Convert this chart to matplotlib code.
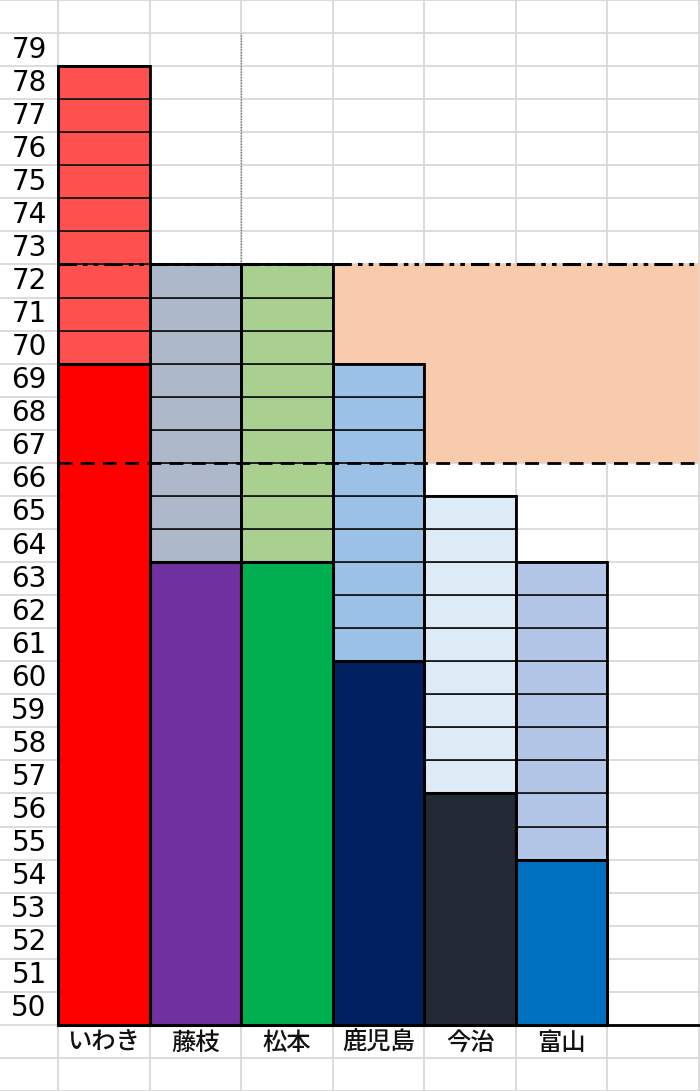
import matplotlib
matplotlib.use("Agg")
import matplotlib.pyplot as plt
import numpy as np

plt.rcParams['font.family'] = ['Noto Sans CJK JP', 'DejaVu Sans']

teams = ['いわき', '藤枝', '松本', '鹿児島', '今治', '富山']
base_pts = [69, 63, 63, 60, 56, 54]
max_pts = [78, 72, 72, 69, 65, 63]
base_colors = ['#FF0000', '#7030A0', '#00B050', '#002060', '#222A35', '#0070C0']
light_colors = ['#FF5050', '#ADB9CA', '#A9D08E', '#9BC2E6', '#DDEBF7', '#B4C6E7']
row_labels = list(range(79, 49, -1))
band_low, band_high = 66, 72
band_start_col = 3
n_cols = 7
y_floor = 49

fig = plt.figure(figsize=(7.0, 10.91), dpi=100)
ax = fig.add_axes([0, 0, 1, 1])
col_w = 641 / 7
ax.set_xlim(-58 / col_w, n_cols + 1 / col_w)
ax.set_ylim(47, 80)
for s in ax.spines.values():
    s.set_visible(False)
ax.set_xticks(np.arange(0, n_cols + 1))
ax.set_yticks(np.arange(47, 81))
ax.tick_params(length=0, labelbottom=False, labelleft=False)
ax.grid(True, color='#D9D9D9', lw=1.3, zorder=0)
ax.set_axisbelow(True)

# peach band
ax.bar(band_start_col, band_high - band_low, bottom=band_low, width=n_cols - band_start_col,
       align='edge', color='#F8CBAD', lw=0, zorder=1)

for i, (b, m) in enumerate(zip(base_pts, max_pts)):
    # light cells
    for v in range(b + 1, m + 1):
        ax.bar(i, 1, bottom=v - 1, width=1, align='edge', color=light_colors[i],
               edgecolor='#1a1a1a', lw=1.3, zorder=3)
    # outline of stack
    ax.bar(i, m - b, bottom=b, width=1, align='edge', fill=False,
           edgecolor='black', lw=2.0, zorder=4)
    # solid base
    ax.bar(i, b - y_floor, bottom=y_floor, width=1, align='edge', color=base_colors[i],
           edgecolor='black', lw=2.2, zorder=4)

# reference lines
ax.plot([0, n_cols], [band_high, band_high], color='black', lw=2.2,
        linestyle=(0, (6, 2, 1.5, 2, 1.5, 2)), zorder=6)
ax.plot([0, n_cols], [band_low, band_low], color='black', lw=2.0,
        linestyle=(0, (5, 3)), zorder=6)
ax.plot([2, 2], [band_high, 79], color='#777777', lw=1.0, linestyle=(0, (1, 1)), zorder=2)
ax.plot([0, n_cols], [y_floor, y_floor], color='black', lw=2.0, zorder=5)

# row labels
xl = -29 / col_w
for v in row_labels:
    ax.text(xl, v - 0.5, str(v), ha='center', va='center', fontsize=20,
            family=['DejaVu Sans'], color='black')

for i, t in enumerate(teams):
    ax.text(i + 0.5, 48.45, t, ha='center', va='center', fontsize=17.5,
            fontweight='medium', color='#111111')

fig.savefig('out.png', dpi=100)
